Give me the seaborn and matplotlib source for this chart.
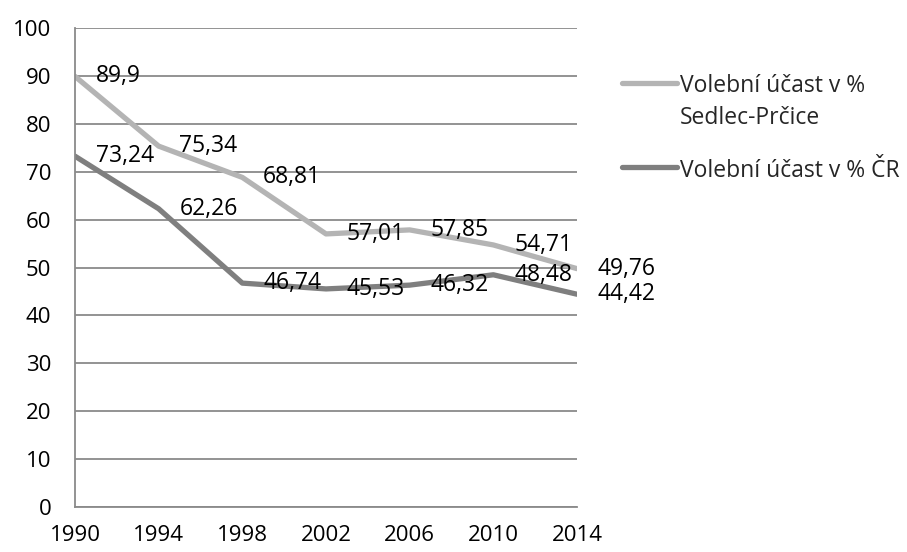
import pandas as pd
import seaborn as sns
import matplotlib.pyplot as plt
from matplotlib.lines import Line2D

# data
roky = [1990, 1994, 1998, 2002, 2006, 2010, 2014]
sedlec = [89.9, 75.34, 68.81, 57.01, 57.85, 54.71, 49.76]
cr = [73.24, 62.26, 46.74, 45.53, 46.32, 48.48, 44.42]
serie = ['Volební účast v %\nSedlec-Prčice', 'Volební účast v % ČR']

df = pd.DataFrame({
    'Rok': roky * 2,
    'Účast': sedlec + cr,
    'Řada': [serie[0]] * len(roky) + [serie[1]] * len(roky),
})

sns.set_style('white')
plt.rcParams['font.family'] = ['Open Sans', 'DejaVu Sans']
FS = 16.5
FS_TICK = 16

W, H = 907, 552
fig = plt.figure(figsize=(W / 100, H / 100), dpi=100)
ax = fig.add_axes([75 / W, 1 - 507 / H, (577 - 75) / W, (507 - 28) / H])

barvy = {serie[0]: '#b4b4b4', serie[1]: '#7f7f7f'}
sns.lineplot(data=df, x='Rok', y='Účast', hue='Řada', palette=barvy,
             linewidth=3.8, legend=False, ax=ax, solid_capstyle='round')

# popisky hodnot vpravo od bodu
for hodnoty in (sedlec, cr):
    for x, y in zip(roky, hodnoty):
        ax.annotate(f'{y:g}'.replace('.', ','), (x, y), xytext=(15, 0),
                    textcoords='offset points', ha='left', va='center',
                    fontsize=FS, color='black')

ax.set_xlim(1990, 2014)
ax.set_ylim(0, 100)
ax.set_xticks(roky)
ax.set_yticks(range(0, 101, 10))
ax.set_xlabel('')
ax.set_ylabel('')
ax.grid(axis='y', color='#8a8a8a', linewidth=1.3)
ax.set_axisbelow(True)
for s in ('top', 'right'):
    ax.spines[s].set_visible(False)
for s in ('left', 'bottom'):
    ax.spines[s].set_color('#8a8a8a')
    ax.spines[s].set_linewidth(1.3)
ax.tick_params(axis='both', direction='out', length=6, width=1.3,
               color='#8a8a8a', labelsize=FS_TICK, labelcolor='black')
ax.tick_params(axis='y', pad=11)
ax.tick_params(axis='x', pad=7)

# legenda (čára u prvního řádku textu)
for label, ly, baselines in ((serie[0], 83, (92, 124)), (serie[1], 167, (177,))):
    fig.add_artist(Line2D([622 / W, 677 / W], [1 - ly / H, 1 - ly / H],
                          color=barvy[label], linewidth=3.8,
                          solid_capstyle='round'))
    for radek, by in zip(label.split('\n'), baselines):
        fig.text(680 / W, 1 - by / H, radek, ha='left', va='baseline',
                 fontsize=FS)

plt.savefig('out.png', dpi=100)
